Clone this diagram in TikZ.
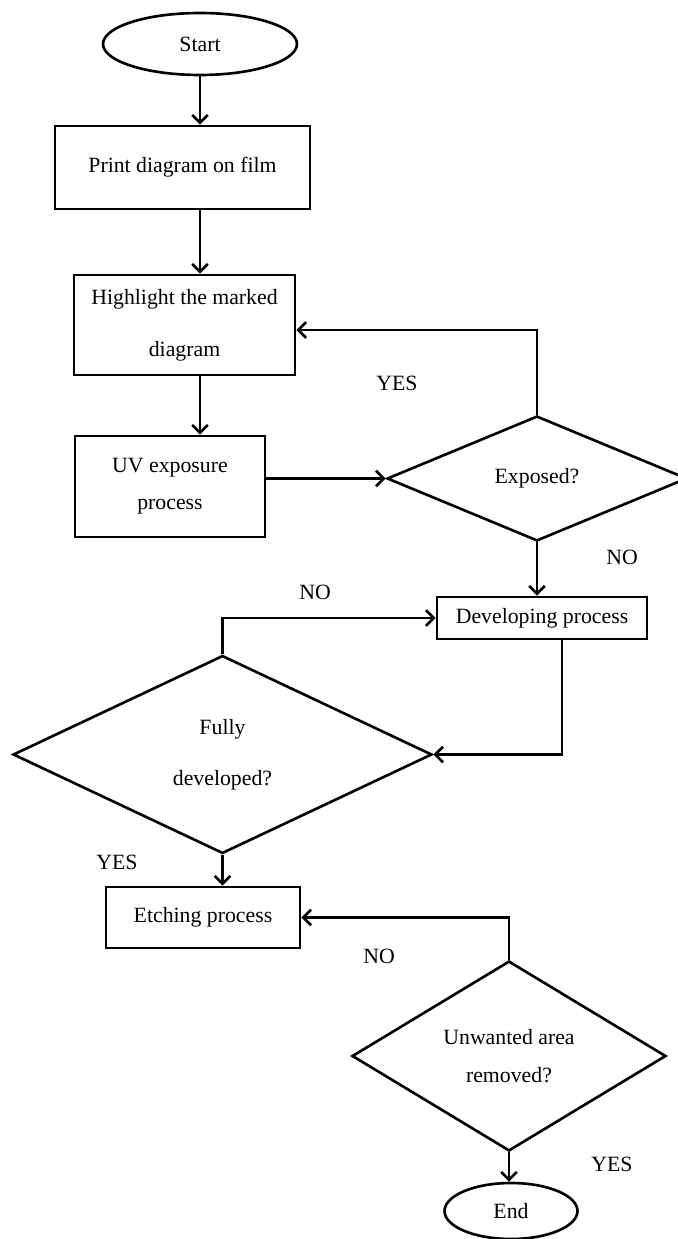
\documentclass[tikz,border=0pt]{standalone}
\usepackage{fontspec}
\setmainfont{Liberation Serif}
\usetikzlibrary{shapes.geometric,arrows.meta}

\begin{document}
\begin{tikzpicture}[x=0.02cm, y=-0.02cm,
    >={Straight Barb[length=4.5pt,width=9pt]},
    every node/.style={font=\fontsize{12.4}{15}\selectfont},
    proc/.style={draw, rectangle, line width=1.5pt, inner sep=0pt, align=center},
    term/.style={draw, ellipse, line width=1.5pt, inner sep=0pt},
    dec/.style={draw, diamond, line width=1.5pt, inner sep=0pt, align=center},
    lbl/.style={inner sep=0pt},
    edge/.style={->, line width=1.5pt}]

  \useasboundingbox (0,0) rectangle (677,1239);

  \node[term, minimum width=3.88cm, minimum height=1.24cm] (start) at (200,44) {Start};
  \node[proc, minimum width=5.1cm, minimum height=1.66cm] (print) at (182.5,167.5) {Print diagram on film};
  \node[proc, minimum width=4.42cm, minimum height=2.0cm] (highlight) at (184.5,325) {Highlight the marked\\[14.4pt]diagram};
  \node[proc, minimum width=3.8cm, minimum height=2.02cm] (uv) at (170,486.5) {UV exposure\\[6pt]process};
  \node[dec, minimum width=6.0cm, minimum height=2.5cm] (exposed) at (537,478.5) {Exposed?};
  \node[proc, minimum width=4.2cm, minimum height=0.84cm] (develop) at (542,618) {Developing process};
  \node[dec, minimum width=8.38cm, minimum height=3.96cm] (fully) at (222.5,754.5) {Fully\\[14pt]developed?};
  \node[proc, minimum width=3.88cm, minimum height=1.22cm] (etch) at (203,917.5) {Etching process};
  \node[dec, minimum width=6.28cm, minimum height=3.8cm] (unwanted) at (509,1056) {Unwanted area\\[7pt]removed?};
  \node[term, minimum width=2.66cm, minimum height=1.12cm] (end) at (511,1211) {End};

  % branch labels
  \node[lbl] (yes1) at (397,383) {YES};
  \node[lbl] (no1) at (622,557) {NO};
  \node[lbl] (no2) at (315,592) {NO};
  \node[lbl] (yes2) at (117,862) {YES};
  \node[lbl] (no3) at (379,956) {NO};
  \node[lbl] (yes3) at (612,1164) {YES};

  \draw[edge] (start.south) -- (start.south |- print.north);
  \draw[edge] (print.south -| start.south) -- (highlight.north -| start.south);
  \draw[edge] (highlight.south -| start.south) -- (uv.north -| start.south);
  \draw[edge] (uv.east |- exposed.west) -- (exposed.west);
  \draw[edge] (exposed.north) |- ([yshift=-0.1cm]highlight.east);
  \draw[edge] (exposed.south) -- (exposed.south |- develop.north);
  \draw[edge] (fully.north) |- (develop.west);
  \draw[edge] ([xshift=0.4cm]develop.south) |- (fully.east);
  \draw[edge] (fully.south) -- (fully.south |- etch.north);
  \draw[edge] (unwanted.north) |- (etch.east);
  \draw[edge] (unwanted.south) -- (unwanted.south |- end.north);
\end{tikzpicture}
\end{document}
